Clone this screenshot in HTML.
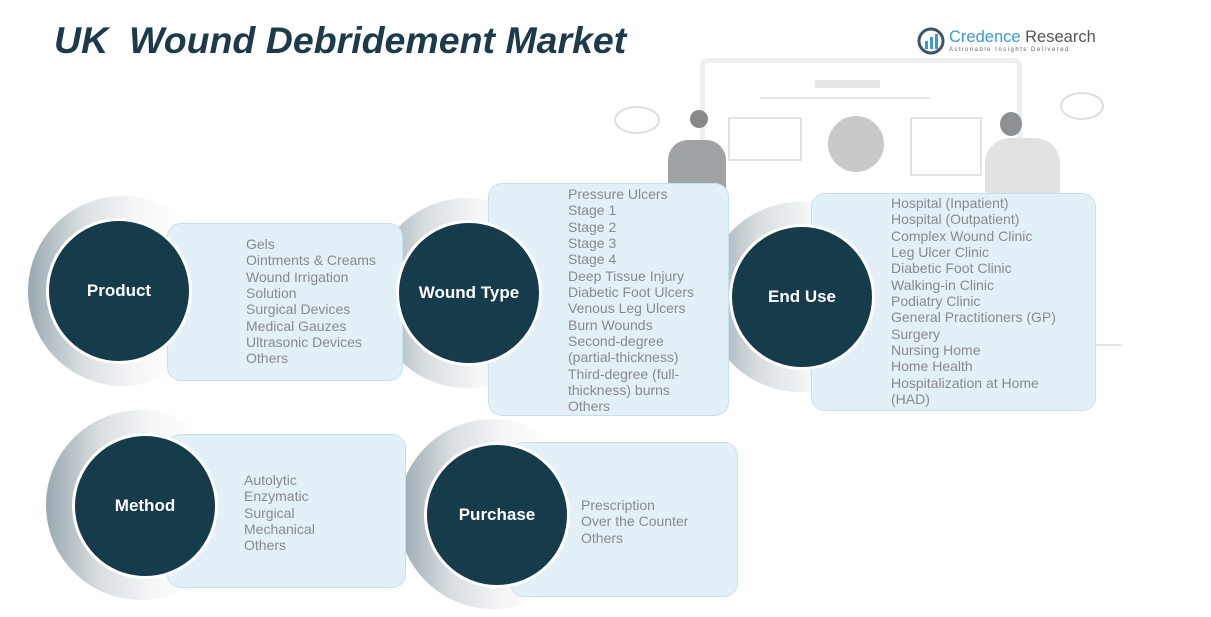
<!DOCTYPE html>
<html><head><meta charset="utf-8"><style>
body{margin:0;width:1211px;height:617px;background:#fff;position:relative;overflow:hidden;font-family:"Liberation Sans",sans-serif}
.a{position:absolute}
.box{position:absolute;background:#e3f0f7;border:1.5px solid #c8e0ec;border-radius:14px}
.ring{position:absolute;border-radius:50%;background:linear-gradient(90deg,#9aa8b0 0%,#d8dee1 28%,#f4f6f7 55%,rgba(255,255,255,0) 80%)}
.c{position:absolute;border-radius:50%;background:#163b4b;border:3px solid #fff;color:#fff;font-weight:bold;font-size:17px;display:flex;align-items:center;justify-content:center;box-sizing:border-box;width:146px;height:146px}
.t{position:absolute;color:#8a8a8a;font-size:14px;line-height:16.35px;white-space:nowrap}
.ill{position:absolute;background:#e6e6e6}
</style></head><body>
<div class="a" style="left:54px;top:19px;font-size:37.5px;font-weight:bold;font-style:italic;color:#1c3a4a;white-space:pre">UK  Wound Debridement Market</div>
<svg class="a" style="left:917px;top:27px" width="30" height="28"><circle cx="14" cy="14" r="12" fill="none" stroke="#3a5566" stroke-width="3"/><rect x="8" y="14" width="3" height="8" fill="#3a9ad0"/><rect x="13" y="10" width="3" height="12" fill="#3a9ad0"/><rect x="18" y="7" width="3" height="15" fill="#3a9ad0"/></svg>
<div class="a" style="left:949px;top:28px;font-size:16.5px;color:#555"><span style="color:#3a9ad0">Credence</span> Research</div>
<div class="a" style="left:949px;top:47px;font-size:6px;letter-spacing:1.5px;color:#666">Actionable Insights Delivered</div>
<div class="a" style="left:700px;top:58px;width:312px;height:290px;border:5px solid #eee;border-radius:8px"></div>
<div class="ill" style="left:815px;top:80px;width:65px;height:8px"></div>
<div class="ill" style="left:760px;top:97px;width:170px;height:2px"></div>
<div class="a" style="left:728px;top:117px;width:70px;height:40px;border:2px solid #e4e4e4"></div>
<div class="a" style="left:910px;top:117px;width:68px;height:55px;border:2px solid #e4e4e4"></div>
<div class="a" style="left:828px;top:116px;width:56px;height:56px;border-radius:50%;background:#c7c9ca"></div>
<div class="a" style="left:690px;top:110px;width:18px;height:18px;border-radius:50%;background:#888"></div>
<div class="a" style="left:668px;top:140px;width:58px;height:50px;border-radius:20px 20px 0 0;background:#9fa3a6"></div>
<div class="a" style="left:1000px;top:112px;width:22px;height:24px;border-radius:50%;background:#8e9194"></div>
<div class="a" style="left:985px;top:138px;width:75px;height:55px;border-radius:25px 25px 0 0;background:#e2e2e2"></div>
<div class="a" style="left:614px;top:106px;width:42px;height:24px;border:2px solid #ddd;border-radius:50%"></div>
<div class="a" style="left:1060px;top:92px;width:40px;height:24px;border:2px solid #ddd;border-radius:50%"></div>
<div class="ill" style="left:1060px;top:344px;width:62px;height:2px"></div>
<div class="ring" style="left:28px;top:196px;width:190px;height:190px"></div>
<div class="ring" style="left:372px;top:198px;width:190px;height:190px"></div>
<div class="ring" style="left:705px;top:202px;width:190px;height:190px"></div>
<div class="ring" style="left:46px;top:410px;width:190px;height:190px"></div>
<div class="ring" style="left:398px;top:419px;width:190px;height:190px"></div>
<div class="box" style="left:167px;top:223px;width:234px;height:156px"></div>
<div class="box" style="left:488px;top:183px;width:239px;height:231px"></div>
<div class="box" style="left:811px;top:193px;width:283px;height:216px"></div>
<div class="box" style="left:167px;top:434px;width:237px;height:152px"></div>
<div class="box" style="left:510px;top:442px;width:226px;height:153px"></div>
<div class="c" style="left:46px;top:218px">Product</div>
<div class="c" style="left:396px;top:220px">Wound Type</div>
<div class="c" style="left:729px;top:224px">End Use</div>
<div class="c" style="left:72px;top:433px">Method</div>
<div class="c" style="left:424px;top:442px">Purchase</div>
<div class="t" style="left:246px;top:236px">Gels<br>Ointments &amp; Creams<br>Wound Irrigation<br>Solution<br>Surgical Devices<br>Medical Gauzes<br>Ultrasonic Devices<br>Others</div>
<div class="t" style="left:568px;top:186px">Pressure Ulcers<br>Stage 1<br>Stage 2<br>Stage 3<br>Stage 4<br>Deep Tissue Injury<br>Diabetic Foot Ulcers<br>Venous Leg Ulcers<br>Burn Wounds<br>Second-degree<br>(partial-thickness)<br>Third-degree (full-<br>thickness) burns<br>Others</div>
<div class="t" style="left:891px;top:195px">Hospital (Inpatient)<br>Hospital (Outpatient)<br>Complex Wound Clinic<br>Leg Ulcer Clinic<br>Diabetic Foot Clinic<br>Walking-in Clinic<br>Podiatry Clinic<br>General Practitioners (GP)<br>Surgery<br>Nursing Home<br>Home Health<br>Hospitalization at Home<br>(HAD)</div>
<div class="t" style="left:244px;top:472px">Autolytic<br>Enzymatic<br>Surgical<br>Mechanical<br>Others</div>
<div class="t" style="left:581px;top:497px">Prescription<br>Over the Counter<br>Others</div>
</body></html>
